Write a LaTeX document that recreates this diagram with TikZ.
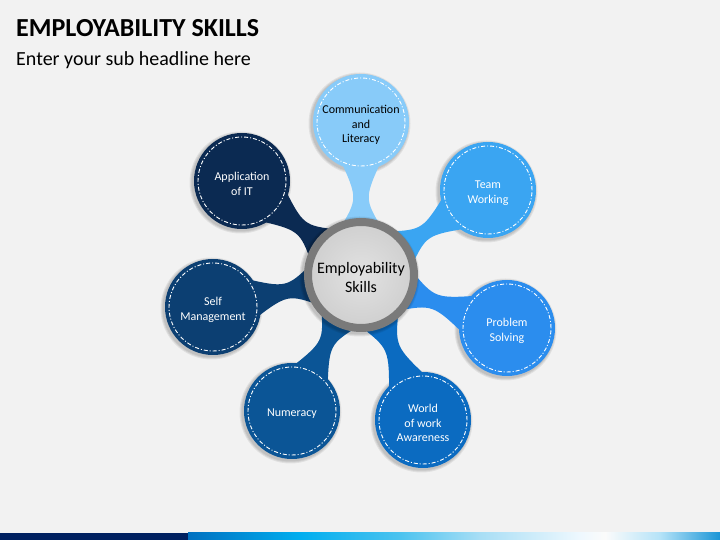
\documentclass[tikz,border=0pt]{standalone}
\usepackage{fontspec}
\setmainfont{Carlito}
\usetikzlibrary{calc}
\definecolor{bg}{HTML}{F2F2F2}
\definecolor{cComm}{HTML}{88CBF9}
\definecolor{cTeam}{HTML}{3AA5F2}
\definecolor{cProb}{HTML}{2B8DEE}
\definecolor{cWorld}{HTML}{0B6BC1}
\definecolor{cNum}{HTML}{0B5596}
\definecolor{cSelf}{HTML}{0C3F72}
\definecolor{cApp}{HTML}{0B2A52}
\definecolor{ring}{HTML}{7A7A7A}
\definecolor{navy}{HTML}{002060}
\definecolor{b1}{HTML}{0070C0}
\definecolor{b2}{HTML}{00AEEF}
\definecolor{b3}{HTML}{4CC3EF}
\definecolor{b4}{HTML}{A8DEF5}
\definecolor{b5}{HTML}{EEF8FE}
\definecolor{b6}{HTML}{FBFBFB}
\definecolor{b7}{HTML}{B5E3F8}
\definecolor{b8}{HTML}{1A95D6}
\definecolor{ctrIn}{HTML}{E2E2E2}
\definecolor{ctrOut}{HTML}{CFCFCF}
\tikzset{
  sat/.style={circle, minimum size=96pt, inner sep=0pt},
  sattext/.style={align=center, inner sep=0pt, yshift=-3pt,
    font=\fontsize{12}{14.5}\selectfont, text=white},
  dashring/.style={white, line width=0.9pt, dash pattern=on 4pt off 2pt on 1pt off 2pt},
  softshadow/.style={fill=black, opacity=0.07},
}
\newcommand\mystem[3]{%
  \fill[#3] let \p1=($(#2)-(#1)$), \n1={atan2(\y1,\x1)}, \n2={veclen(\x1,\y1)} in
    ($(#1)+(\n1:45)+(\n1+90:22)$)
    .. controls ($(#1)+(\n1:\n2/2)+(\n1+90:3)$) and ($(#1)+(\n1:\n2/2)+(\n1+90:3)$) ..
    ($(#1)+(\n1:\n2-35)+(\n1+90:22)$)
    -- ($(#1)+(\n1:\n2-35)+(\n1-90:22)$)
    .. controls ($(#1)+(\n1:\n2/2)+(\n1-90:3)$) and ($(#1)+(\n1:\n2/2)+(\n1-90:3)$) ..
    ($(#1)+(\n1:45)+(\n1-90:22)$) -- cycle;}
\newcommand\myshadow[2]{%
  \foreach \rr in {1,2,3}{\fill[softshadow] ($(#1)+(-1.5,-1.5)$) circle (#2+\rr);}}
\begin{document}
\begin{tikzpicture}[x=1pt,y=1pt]
\useasboundingbox (0,0) rectangle (720,540);
\fill[bg] (0,0) rectangle (720,540);
% title
\node[anchor=base west, inner sep=0pt, font=\fontsize{26}{30}\selectfont\bfseries] (title) at (16,503) {EMPLOYABILITY SKILLS};
\node[anchor=base west, inner sep=0pt, font=\fontsize{20}{24}\selectfont] (sub) at (16,474) {Enter your sub headline here};
% bottom bar
\fill[navy] (0,0) rectangle (188,7);
\shade[left color=b1, right color=b2] (188,0) rectangle (300,7);
\shade[left color=b2, right color=b3] (300,0) rectangle (400,7);
\shade[left color=b3, right color=b4] (400,0) rectangle (480,7);
\shade[left color=b4, right color=b5] (480,0) rectangle (580,7);
\shade[left color=b5, right color=b6] (580,0) rectangle (605,7);
\shade[left color=b6, right color=b7] (605,0) rectangle (660,7);
\shade[left color=b7, right color=b8] (660,0) rectangle (720,7);
% node positions
\coordinate (ctr) at (361,265);
\coordinate (pcomm) at (361,418);
\coordinate (pteam) at (488,350);
\coordinate (pprob) at (507,212);
\coordinate (pworld) at (423,120);
\coordinate (pnum) at (292,129);
\coordinate (pself) at (213,233);
\coordinate (papp) at (242,359);
% shadows of satellites
\foreach \p in {pcomm,pteam,pprob,pworld,pnum,pself,papp}{\myshadow{\p}{48}}
% stems
\mystem{ctr}{pcomm}{cComm}
\mystem{ctr}{pteam}{cTeam}
\mystem{ctr}{pprob}{cProb}
\mystem{ctr}{pworld}{cWorld}
\mystem{ctr}{pnum}{cNum}
\mystem{ctr}{pself}{cSelf}
\mystem{ctr}{papp}{cApp}
% satellites
\node[sat, fill=cComm] (comm) at (pcomm) {};
\node[sat, fill=cTeam] (team) at (pteam) {};
\node[sat, fill=cProb] (prob) at (pprob) {};
\node[sat, fill=cWorld] (world) at (pworld) {};
\node[sat, fill=cNum] (num) at (pnum) {};
\node[sat, fill=cSelf] (self) at (pself) {};
\node[sat, fill=cApp] (app) at (papp) {};
\foreach \n in {comm,team,prob,world,num,self,app}{\draw[dashring] (\n.center) circle (44);}
\node[sattext, text=black] (commT) at (comm) {Communication\\and\\Literacy};
\node[sattext] (teamT) at (team) {Team\\Working};
\node[sattext] (probT) at (prob) {Problem\\Solving};
\node[sattext] (worldT) at (world) {World\\of work\\Awareness};
\node[sattext] (numT) at (num) {Numeracy};
\node[sattext] (selfT) at (self) {Self\\Management};
\node[sattext] (appT) at (app) {Application\\of IT};
% center
\myshadow{ctr}{57}
\node[circle, minimum size=106pt, inner sep=0pt, draw=ring, line width=8pt,
  inner color=ctrIn, outer color=ctrOut] (center) at (ctr) {};
\node[align=center, inner sep=0pt, yshift=-3pt, font=\fontsize{16}{19}\selectfont] (centerT) at (center) {Employability\\Skills};
\end{tikzpicture}
\end{document}
